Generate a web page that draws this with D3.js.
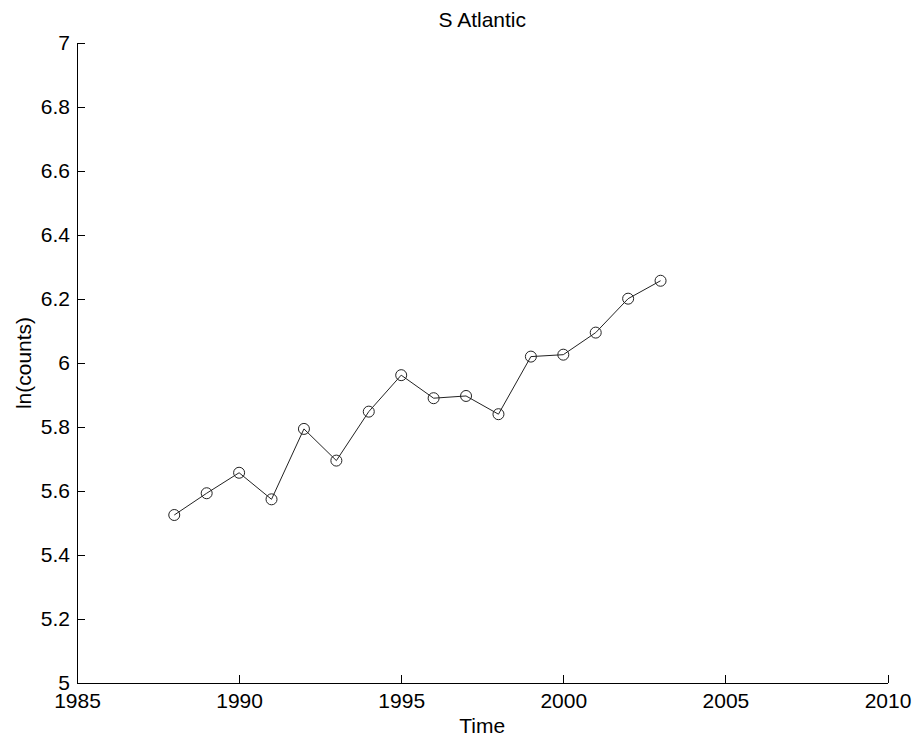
<!DOCTYPE html>
<html><head><meta charset="utf-8">
<script src="https://cdn.jsdelivr.net/npm/d3@7"></script>
<style>body{margin:0;background:#fff}text{font-family:Arial,"Liberation Sans",sans-serif;fill:#000}</style>
</head><body><svg id="c" width="914" height="742"></svg>
<script>
const years = [1988,1989,1990,1991,1992,1993,1994,1995,1996,1997,1998,1999,2000,2001,2002,2003];
const lnCounts = [5.525,5.593,5.657,5.574,5.794,5.695,5.848,5.962,5.890,5.897,5.840,6.020,6.026,6.095,6.201,6.257];
const xTicks = [1985,1990,1995,2000,2005,2010];
const yTicks = [5,5.2,5.4,5.6,5.8,6,6.2,6.4,6.6,6.8,7];
const title = "S Atlantic", xLabel = "Time", yLabel = "ln(counts)";

const svg = d3.select("#c");
const m = {l:77, r:887.5, t:43, b:683};
const x = d3.scaleLinear().domain([1985,2010]).range([m.l,m.r]);
const y = d3.scaleLinear().domain([5,7]).range([m.b,m.t]);
const fs = 21;

const xa = svg.append("g").attr("transform",`translate(0,${m.b})`)
  .call(d3.axisBottom(x).tickValues(xTicks).tickFormat(d3.format("d")).tickSizeInner(-8).tickSizeOuter(0).tickPadding(10));
const ya = svg.append("g").attr("transform",`translate(${m.l},0)`)
  .call(d3.axisLeft(y).tickValues(yTicks).tickFormat(d3.format("~g")).tickSizeInner(-8).tickSizeOuter(0).tickPadding(7));
[xa,ya].forEach(a=>{
  a.selectAll("text").style("font-size",fs+"px").attr("fill","#000");
  a.selectAll("path,line").attr("stroke","#000").attr("shape-rendering","crispEdges");
  a.attr("font-family",null);
});

svg.append("path").datum(years.map((d,i)=>[d,lnCounts[i]]))
  .attr("fill","none").attr("stroke","#222").attr("stroke-width",1)
  .attr("d",d3.line().x(d=>x(d[0])).y(d=>y(d[1])));
svg.selectAll("circle.p").data(years).join("circle").attr("class","p")
  .attr("cx",d=>x(d)).attr("cy",(d,i)=>y(lnCounts[i])).attr("r",5.5)
  .attr("fill","none").attr("stroke","#222").attr("stroke-width",1);

svg.append("text").attr("x",(m.l+m.r)/2).attr("y",27).attr("text-anchor","middle").style("font-size",fs+"px").text(title);
svg.append("text").attr("x",(m.l+m.r)/2).attr("y",733).attr("text-anchor","middle").style("font-size",fs+"px").text(xLabel);
svg.append("text").attr("transform",`translate(31,${(m.t+m.b)/2}) rotate(-90)`).attr("text-anchor","middle").style("font-size",fs+"px").text(yLabel);
</script></body></html>
